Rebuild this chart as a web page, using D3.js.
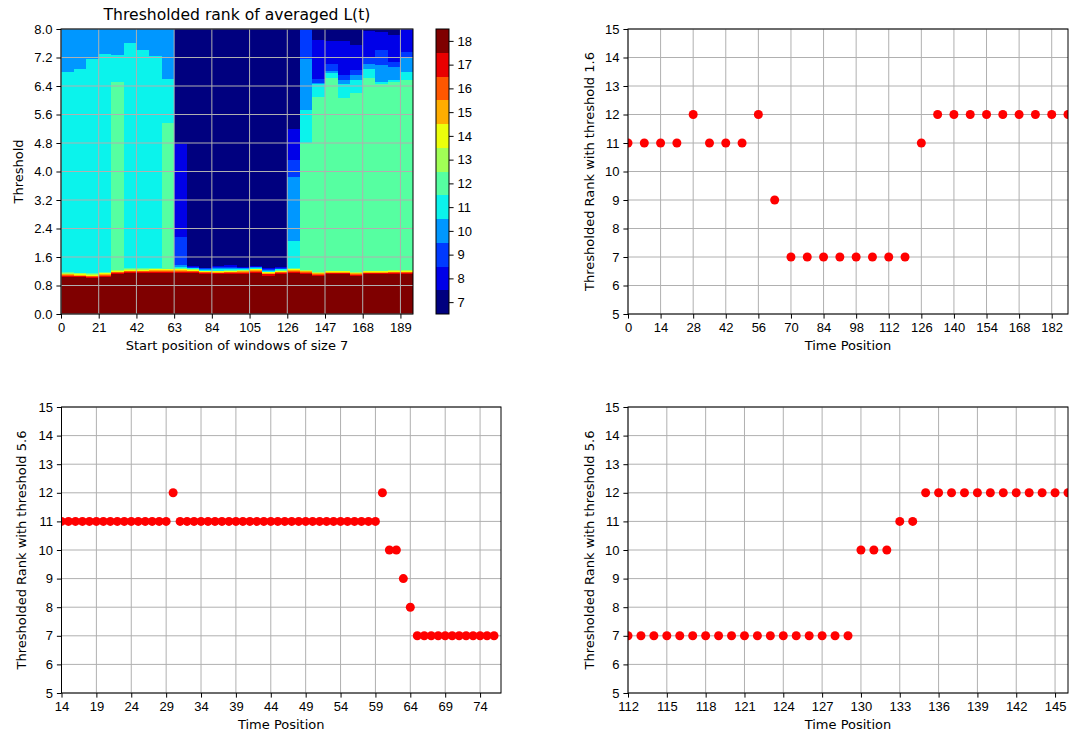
<!DOCTYPE html>
<html>
<head>
<meta charset="utf-8">
<script src="https://cdn.jsdelivr.net/npm/d3@7"></script>
<style>
  body { margin: 0; background: #fff; }
  .grid line { stroke: #b0b0b0; stroke-width: 1; }
  .tick line { stroke: #000; stroke-width: 1; }
  .tick text { fill: #000; font-size: 13px; }
</style>
</head>
<body>
<script>
// ---------- data ----------
const windowSize = 7;
const windowStarts = [0,7,14,21,28,35,42,49,56,63,70,77,84,91,98,105,112,119,126,133,140,147,154,161,168,175,182,189];
const heatXTicks = [0,21,42,63,84,105,126,147,168,189];
const thresholdTicks = [0.0,0.8,1.6,2.4,3.2,4.0,4.8,5.6,6.4,7.2,8.0];
const rankLevels = [7,8,9,10,11,12,13,14,15,16,17,18];
const rankColors = ['#00007f','#0000e8','#003aff','#0097ff','#0bf3ec','#56ffa1',
                    '#a1ff56','#ecff0b','#ffad00','#ff5700','#e90000','#7f0000'];

// per window column: [rank, upper threshold] from the bottom (threshold 0) up
const columnBands = [
  [[18,1.04],[17,1.07],[16,1.09],[15,1.11],[14,1.13],[13,1.15],[12,1.17],[11,6.78],[10,8]],
  [[18,1.03],[17,1.06],[16,1.08],[15,1.10],[14,1.12],[13,1.14],[12,1.16],[11,6.87],[10,8]],
  [[18,1.01],[17,1.04],[16,1.06],[15,1.08],[14,1.10],[13,1.12],[12,1.14],[11,7.16],[10,8]],
  [[18,1.05],[17,1.08],[16,1.10],[15,1.12],[14,1.14],[13,1.16],[12,1.18],[11,7.31],[10,8]],
  [[18,1.12],[17,1.15],[16,1.17],[15,1.19],[14,1.21],[13,1.23],[12,6.52],[11,7.27],[10,8]],
  [[18,1.15],[17,1.18],[16,1.20],[15,1.22],[14,1.24],[13,1.26],[12,1.28],[11,7.60],[10,8]],
  [[18,1.15],[17,1.18],[16,1.20],[15,1.22],[14,1.24],[13,1.26],[12,1.28],[11,7.40],[10,8]],
  [[18,1.16],[17,1.19],[16,1.21],[15,1.23],[14,1.25],[13,1.27],[12,1.29],[11,7.25],[10,8]],
  [[18,1.16],[17,1.19],[16,1.21],[15,1.23],[14,1.25],[13,1.27],[12,5.37],[11,6.59],[10,8]],
  [[18,1.16],[17,1.19],[16,1.21],[15,1.23],[14,1.25],[13,1.27],[12,1.29],[11,1.32],[10,1.38],[9,2.15],[8,4.76],[7,8]],
  [[18,1.15],[17,1.18],[16,1.20],[15,1.22],[14,1.24],[13,1.25],[12,1.26],[11,1.28],[10,1.30],[9,1.33],[8,1.36],[7,8]],
  [[18,1.12],[17,1.15],[16,1.17],[15,1.19],[14,1.20],[13,1.21],[12,1.22],[11,1.24],[10,1.26],[9,1.28],[8,1.30],[7,8]],
  [[18,1.11],[17,1.14],[16,1.16],[15,1.18],[14,1.20],[13,1.21],[12,1.22],[11,1.25],[10,1.28],[9,1.31],[8,1.35],[7,8]],
  [[18,1.12],[17,1.15],[16,1.17],[15,1.19],[14,1.21],[13,1.22],[12,1.23],[11,1.26],[10,1.29],[9,1.33],[8,1.37],[7,8]],
  [[18,1.13],[17,1.16],[16,1.18],[15,1.20],[14,1.22],[13,1.23],[12,1.24],[11,1.26],[10,1.28],[9,1.30],[8,1.32],[7,8]],
  [[18,1.16],[17,1.19],[16,1.21],[15,1.23],[14,1.25],[13,1.26],[12,1.27],[11,1.29],[10,1.31],[9,1.33],[8,1.36],[7,8]],
  [[18,1.08],[17,1.11],[16,1.13],[15,1.15],[14,1.17],[13,1.18],[12,1.19],[11,1.21],[10,1.23],[9,1.25],[8,1.28],[7,8]],
  [[18,1.12],[17,1.15],[16,1.17],[15,1.19],[14,1.21],[13,1.22],[12,1.23],[11,1.25],[10,1.27],[9,1.30],[8,1.33],[7,8]],
  [[18,1.16],[17,1.19],[16,1.21],[15,1.23],[14,1.25],[13,1.27],[12,1.29],[11,2.05],[10,3.85],[9,4.31],[8,5.20],[7,8]],
  [[18,1.13],[17,1.16],[16,1.18],[15,1.20],[14,1.22],[13,1.24],[12,4.80],[11,5.72],[10,7.15],[9,8]],
  [[18,1.07],[17,1.10],[16,1.12],[15,1.14],[14,1.16],[13,1.18],[12,6.08],[11,6.45],[10,6.49],[9,6.59],[8,7.68],[7,8]],
  [[18,1.11],[17,1.14],[16,1.16],[15,1.18],[14,1.20],[13,1.22],[12,6.62],[11,6.76],[10,6.82],[9,7.01],[8,7.67],[7,8]],
  [[18,1.11],[17,1.14],[16,1.16],[15,1.18],[14,1.20],[13,1.22],[12,6.05],[11,6.45],[10,6.58],[9,6.71],[8,7.67],[7,8]],
  [[18,1.07],[17,1.10],[16,1.12],[15,1.14],[14,1.16],[13,1.18],[12,6.19],[11,6.57],[10,6.71],[9,6.85],[8,7.56],[7,8]],
  [[18,1.11],[17,1.14],[16,1.16],[15,1.18],[14,1.20],[13,1.22],[12,6.62],[11,6.88],[10,7.02],[9,7.18],[8,7.93],[7,8]],
  [[18,1.11],[17,1.14],[16,1.16],[15,1.18],[14,1.20],[13,1.22],[12,6.45],[11,6.52],[10,7.00],[9,7.41],[8,7.92],[7,8]],
  [[18,1.12],[17,1.15],[16,1.17],[15,1.19],[14,1.21],[13,1.23],[12,6.50],[11,6.57],[10,6.94],[9,7.08],[8,7.83],[7,8]],
  [[18,1.12],[17,1.15],[16,1.17],[15,1.19],[14,1.21],[13,1.23],[12,6.57],[11,6.80],[10,7.18],[9,7.36],[8,8]]
];

// scatter panels
const rankTicks = [5,6,7,8,9,10,11,12,13,14,15];

const timeA = [0,7,14,21,28,35,42,49,56,63,70,77,84,91,98,105,112,119,126,133,140,147,154,161,168,175,182,189];
const rankA = [11,11,11,11,12,11,11,11,12,9,7,7,7,7,7,7,7,7,11,12,12,12,12,12,12,12,12,12];
const ticksA = [0,14,28,42,56,70,84,98,112,126,140,154,168,182];

const timeB = [14,15,16,17,18,19,20,21,22,23,24,25,26,27,28,29,30,31,32,33,34,35,36,37,38,39,40,41,42,43,44,45,
               46,47,48,49,50,51,52,53,54,55,56,57,58,59,60,61,62,63,64,65,66,67,68,69,70,71,72,73,74,75,76];
const rankB = [11,11,11,11,11,11,11,11,11,11,11,11,11,11,11,11,12,11,11,11,11,11,11,11,11,11,11,11,11,11,11,11,
               11,11,11,11,11,11,11,11,11,11,11,11,11,11,12,10,10,9,8,7,7,7,7,7,7,7,7,7,7,7,7];
const ticksB = [14,19,24,29,34,39,44,49,54,59,64,69,74];

const timeC = [112,113,114,115,116,117,118,119,120,121,122,123,124,125,126,127,128,129,
               130,131,132,133,134,135,136,137,138,139,140,141,142,143,144,145,146];
const rankC = [7,7,7,7,7,7,7,7,7,7,7,7,7,7,7,7,7,7,10,10,10,11,11,12,12,12,12,12,12,12,12,12,12,12,12];
const ticksC = [112,115,118,121,124,127,130,133,136,139,142,145];

// ---------- drawing ----------
const width = 1078, height = 733;
const svg = d3.select('body').append('svg')
    .attr('width', width).attr('height', height)
    .style('font-family', '"DejaVu Sans", Verdana, sans-serif');

const rankColor = d3.scaleOrdinal(rankLevels, rankColors);

function styleAxis(g) {
  g.select('.domain').remove();
  g.selectAll('.tick text').attr('font-family', null);
}

function gridLines(g, xs, ys, xv, yv) {
  const grid = g.append('g').attr('class', 'grid');
  grid.selectAll('.gx').data(xv).join('line')
      .attr('x1', d => xs(d)).attr('x2', d => xs(d))
      .attr('y1', ys.range()[0]).attr('y2', ys.range()[1]);
  grid.selectAll('.gy').data(yv).join('line')
      .attr('x1', xs.range()[0]).attr('x2', xs.range()[1])
      .attr('y1', d => ys(d)).attr('y2', d => ys(d));
}

function frame(g, box) {
  g.append('rect')
      .attr('x', box.left).attr('y', box.top)
      .attr('width', box.right - box.left).attr('height', box.bottom - box.top)
      .attr('fill', 'none').attr('stroke', '#000').attr('stroke-width', 1);
}

function yLabel(text, x, cy) {
  svg.append('text')
      .attr('transform', `translate(${x},${cy}) rotate(-90)`)
      .attr('text-anchor', 'middle').attr('font-size', 13)
      .text(text);
}

// heatmap
const heat = {left: 61, right: 413, top: 29, bottom: 314};
const heat_x = d3.scaleLinear()
    .domain([windowStarts[0], windowStarts[windowStarts.length - 1] + windowSize])
    .range([heat.left, heat.right]);
const heat_y = d3.scaleLinear().domain([0, 8]).range([heat.bottom, heat.top]);

const cells = [];
columnBands.forEach((bands, i) => {
  let lo = 0;
  bands.forEach(([rank, hi]) => {
    cells.push({start: windowStarts[i], lo: lo, hi: hi, rank: rank});
    lo = hi;
  });
});

const g_heat = svg.append('g');
g_heat.append('g').selectAll('rect').data(cells).join('rect')
    .attr('x', d => heat_x(d.start))
    .attr('width', d => heat_x(d.start + windowSize) - heat_x(d.start))
    .attr('y', d => heat_y(d.hi))
    .attr('height', d => heat_y(d.lo) - heat_y(d.hi))
    .attr('fill', d => rankColor(d.rank))
    .attr('shape-rendering', 'crispEdges');

gridLines(g_heat, heat_x, heat_y, heatXTicks, thresholdTicks);
frame(g_heat, heat);

g_heat.append('g')
    .attr('transform', `translate(0,${heat.bottom})`)
    .call(d3.axisBottom(heat_x).tickValues(heatXTicks).tickSize(4.6).tickPadding(4))
    .call(styleAxis);
g_heat.append('g')
    .attr('transform', `translate(${heat.left},0)`)
    .call(d3.axisLeft(heat_y).tickValues(thresholdTicks).tickFormat(d3.format('.1f')).tickSize(4.6).tickPadding(4))
    .call(styleAxis);

svg.append('text')
    .attr('x', (heat.left + heat.right) / 2).attr('y', 20)
    .attr('text-anchor', 'middle').attr('font-size', 15.6)
    .text('Thresholded rank of averaged L(t)');
svg.append('text')
    .attr('x', (heat.left + heat.right) / 2).attr('y', 350)
    .attr('text-anchor', 'middle').attr('font-size', 13)
    .text('Start position of windows of size 7');
yLabel('Threshold', 23, (heat.top + heat.bottom) / 2);

// colorbar
const cbar = {left: 436, right: 449, top: 29, bottom: 314};
const cbar_y = d3.scaleLinear()
    .domain([rankLevels[0] - 0.5, rankLevels[rankLevels.length - 1] + 0.5])
    .range([cbar.bottom, cbar.top]);
const g_cbar = svg.append('g');
g_cbar.selectAll('rect').data(rankLevels).join('rect')
    .attr('x', cbar.left).attr('width', cbar.right - cbar.left)
    .attr('y', d => cbar_y(d + 0.5))
    .attr('height', d => cbar_y(d - 0.5) - cbar_y(d + 0.5))
    .attr('fill', d => rankColor(d))
    .attr('shape-rendering', 'crispEdges');
frame(g_cbar, cbar);
g_cbar.append('g')
    .attr('transform', `translate(${cbar.right},0)`)
    .call(d3.axisRight(cbar_y).tickValues(rankLevels).tickSize(4.6).tickPadding(4))
    .call(styleAxis);

// scatter panels
function scatterPanel(box, xDomain, xTicks, times, ranks, label, labelX, id) {
  const x = d3.scaleLinear().domain(xDomain).range([box.left, box.right]);
  const y = d3.scaleLinear().domain([5, 15]).range([box.bottom, box.top]);
  const g = svg.append('g');

  gridLines(g, x, y, xTicks, rankTicks);

  g.append('clipPath').attr('id', id)
    .append('rect')
      .attr('x', box.left).attr('y', box.top)
      .attr('width', box.right - box.left).attr('height', box.bottom - box.top);

  g.append('g').attr('clip-path', `url(#${id})`)
    .selectAll('circle').data(times).join('circle')
      .attr('cx', d => x(d))
      .attr('cy', (d, i) => y(ranks[i]))
      .attr('r', 4.5)
      .attr('fill', '#ff0000');

  frame(g, box);

  g.append('g')
      .attr('transform', `translate(0,${box.bottom})`)
      .call(d3.axisBottom(x).tickValues(xTicks).tickSize(4.6).tickPadding(4))
      .call(styleAxis);
  g.append('g')
      .attr('transform', `translate(${box.left},0)`)
      .call(d3.axisLeft(y).tickValues(rankTicks).tickSize(4.6).tickPadding(4))
      .call(styleAxis);

  g.append('text')
      .attr('x', (box.left + box.right) / 2).attr('y', box.bottom + 36)
      .attr('text-anchor', 'middle').attr('font-size', 13)
      .text('Time Position');
  yLabel(label, labelX, (box.top + box.bottom) / 2);
}

scatterPanel({left: 628, right: 1068, top: 29, bottom: 314}, [0, 189], ticksA, timeA, rankA,
             'Thresholded Rank with threshold 1.6', 594, 'clipA');
scatterPanel({left: 61.5, right: 501, top: 407, bottom: 693}, [14, 77], ticksB, timeB, rankB,
             'Thresholded Rank with threshold 5.6', 26, 'clipB');
scatterPanel({left: 628, right: 1068, top: 407, bottom: 693}, [112, 146], ticksC, timeC, rankC,
             'Thresholded Rank with threshold 5.6', 594, 'clipC');
</script>
</body>
</html>
